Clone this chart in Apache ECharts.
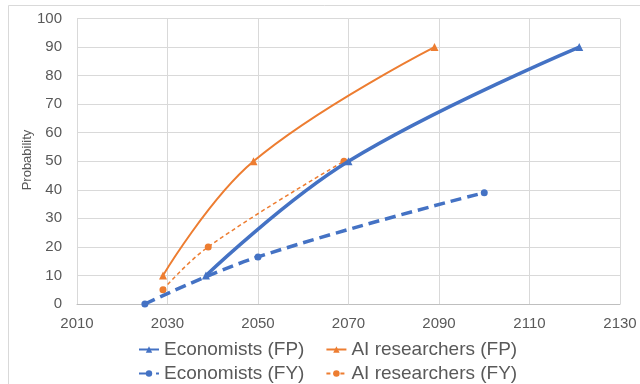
<!DOCTYPE html>
<html>
<head>
<meta charset="utf-8">
<script src="https://cdn.jsdelivr.net/npm/echarts@6/dist/echarts.min.js"></script>
<style>
  html, body { margin: 0; padding: 0; background: #fff; }
  #chart { width: 640px; height: 384px; }
</style>
</head>
<body>
<div id="chart"></div>
<script>
// Year at which each probability level is reached, per group and framing
const econFP = [[2038.5, 10], [2070, 50], [2121, 90]];
const aiFP = [[2029, 10], [2049, 50], [2089, 90]];
const econFY = [[2025, 0], [2050, 16.5], [2100, 39]];
const aiFY = [[2029, 5], [2039, 20], [2069, 50]];

const seriesNames = ['Economists (FP)', 'AI researchers (FP)', 'Economists (FY)', 'AI researchers (FY)'];
const yTitle = 'Probability';

const BLUE = '#4472C4';
const ORANGE = '#ED7D31';
const TEXT = '#595959';
const FONT = 'Liberation Sans, Arial, sans-serif';

const chart = echarts.init(document.getElementById('chart'), null, { renderer: 'canvas' });

const legendText = { color: TEXT, fontSize: 19, fontFamily: FONT };

chart.setOption({
  animation: false,
  backgroundColor: '#fff',
  graphic: [{
    type: 'rect',
    shape: { x: 8.5, y: 5.5, width: 700, height: 500 },
    style: { fill: 'none', stroke: '#d9d9d9', lineWidth: 1 },
    silent: true
  }, {
    // vertical axis title
    type: 'text',
    x: 27, y: 160,
    rotation: Math.PI / 2,
    style: {
      text: yTitle, fill: TEXT, fontSize: 13, fontFamily: FONT,
      align: 'center', verticalAlign: 'middle'
    },
    silent: true
  }],
  grid: { left: 77, right: 20, top: 18.5, bottom: 80 },
  xAxis: {
    type: 'value',
    min: 2010, max: 2130, interval: 20,
    axisLine: { show: true, lineStyle: { color: '#bfbfbf' } },
    axisTick: { show: false },
    splitLine: { show: true, lineStyle: { color: '#d9d9d9' } },
    axisLabel: { color: TEXT, fontSize: 15, fontFamily: FONT, margin: 12, formatter: v => String(v) }
  },
  yAxis: {
    type: 'value',
    min: 0, max: 100, interval: 10,
    axisLine: { show: true, lineStyle: { color: '#d9d9d9' } },
    axisTick: { show: false },
    splitLine: { show: true, lineStyle: { color: '#d9d9d9' } },
    axisLabel: { color: TEXT, fontSize: 15, fontFamily: FONT, margin: 15 }
  },
  legend: [{
    data: [seriesNames[0], seriesNames[1]],
    left: 138, top: 340, padding: 0,
    itemWidth: 20, itemHeight: 8, itemGap: 21,
    textStyle: legendText
  }, {
    data: [seriesNames[2], seriesNames[3]],
    left: 138, top: 364, padding: 0,
    itemWidth: 20, itemHeight: 8, itemGap: 21,
    textStyle: legendText
  }],
  series: [{
    name: seriesNames[0],
    type: 'line',
    data: econFP,
    smooth: 0.4,
    symbol: 'triangle', symbolSize: 8,
    itemStyle: { color: BLUE },
    lineStyle: { color: BLUE, width: 3.5 },
    z: 3
  }, {
    name: seriesNames[1],
    type: 'line',
    data: aiFP,
    smooth: 0.4,
    symbol: 'triangle', symbolSize: 8,
    itemStyle: { color: ORANGE },
    lineStyle: { color: ORANGE, width: 2 },
    z: 2
  }, {
    name: seriesNames[2],
    type: 'line',
    data: econFY,
    smooth: 0.4,
    symbol: 'circle', symbolSize: 7,
    itemStyle: { color: BLUE },
    lineStyle: { color: BLUE, width: 3.5, type: [11, 6] },
    z: 3
  }, {
    name: seriesNames[3],
    type: 'line',
    data: aiFY,
    smooth: 0.4,
    symbol: 'circle', symbolSize: 7,
    itemStyle: { color: ORANGE },
    lineStyle: { color: ORANGE, width: 1.5, type: [4, 3] },
    z: 2
  }]
});
</script>
</body>
</html>
